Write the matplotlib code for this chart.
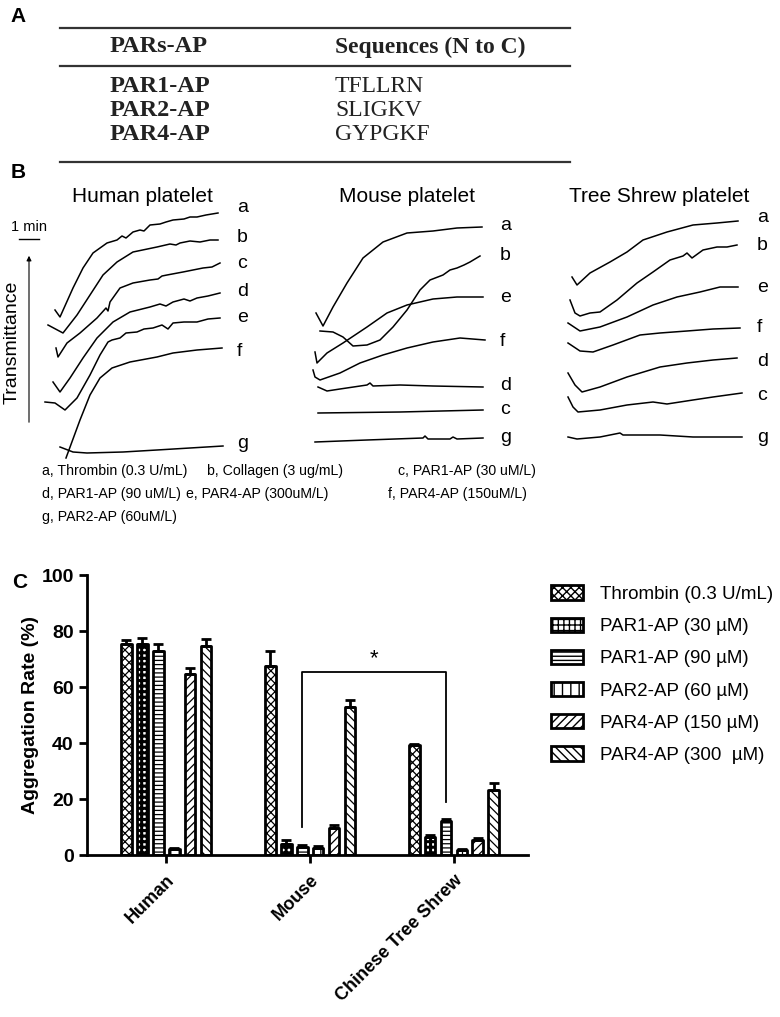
import numpy as np
import matplotlib
matplotlib.use('Agg')
import matplotlib.pyplot as plt
from matplotlib.patches import Patch

plt.rcParams['font.family'] = ['Liberation Sans', 'DejaVu Sans']

W, H = 780, 1017

# ---- panel A: peptide table
table_header = ['PARs-AP', 'Sequences (N to C)']
peptides = ['PAR1-AP', 'PAR2-AP', 'PAR4-AP']
sequences = ['TFLLRN', 'SLIGKV', 'GYPGKF']

# ---- panel B: aggregation traces, time (min) vs transmittance (a.u.)
human = {
    'a': ([0.75, 1.0, 1.65, 2.15, 2.65, 3.35, 3.85, 4.1, 4.3, 4.65, 5.0, 5.2, 5.5, 6.0, 6.3, 6.65, 7.2, 7.5, 7.85, 8.3, 8.9],
          [150, 143, 172, 192, 207, 217, 220, 224, 222, 228, 230, 229, 235, 236, 238, 240, 241, 243, 243, 245, 247]),
    'b': ([0.4, 1.15, 1.85, 2.5, 3.15, 3.85, 4.65, 5.85, 6.5, 6.8, 7.0, 7.5, 8.0, 8.5, 8.9],
          [135, 127, 145, 165, 185, 198, 208, 213, 216, 215, 217, 219, 218, 220, 220]),
    'c': ([0.8, 0.9, 1.35, 2.0, 2.85, 3.3, 3.4, 3.5, 4.0, 4.65, 5.5, 5.9, 6.1, 6.35, 7.15, 8.15, 8.6, 9.0],
          [112, 103, 117, 127, 142, 152, 149, 158, 172, 177, 180, 181, 184, 185, 188, 192, 193, 197]),
    'd': ([0.65, 1.0, 1.5, 2.15, 2.85, 3.65, 4.5, 5.5, 6.0, 6.3, 6.65, 7.2, 7.5, 7.85, 8.4, 9.0],
          [78, 68, 82, 102, 122, 138, 148, 153, 156, 154, 158, 161, 159, 162, 164, 167]),
    'e': ([0.25, 0.75, 1.25, 1.85, 2.5, 3.0, 3.4, 3.6, 4.0, 4.3, 4.85, 5.2, 5.65, 6.1, 6.4, 6.65, 7.2, 7.85, 8.4, 9.0],
          [58, 57, 50, 62, 85, 105, 118, 120, 122, 127, 128, 131, 132, 135, 131, 137, 138, 138, 141, 142]),
    'f': ([1.3, 2.0, 2.5, 3.0, 3.6, 4.5, 5.85, 6.65, 7.85, 9.1],
          [2, 40, 65, 82, 92, 98, 103, 107, 110, 112]),
    'g': ([1.0, 1.65, 2.35, 4.15, 5.85, 7.5, 9.15],
          [13, 8, 7, 8, 10, 12, 14]),
}
mouse = {
    'a': ([0.8, 1.15, 1.65, 2.35, 3.15, 4.15, 5.35, 6.65, 7.85, 9.1],
          [147, 134, 153, 177, 202, 218, 227, 229, 232, 233]),
    'b': ([1.0, 1.65, 2.15, 2.65, 3.35, 4.0, 4.65, 5.35, 6.0, 6.5, 7.15, 7.5, 7.85, 8.2, 8.5, 9.0],
          [129, 128, 123, 114, 115, 120, 133, 150, 170, 180, 185, 190, 192, 195, 198, 204]),
    'e': ([0.75, 0.85, 1.35, 2.15, 3.35, 4.35, 5.35, 6.65, 7.85, 9.15],
          [108, 97, 107, 117, 133, 147, 155, 161, 163, 163]),
    'f': ([0.65, 0.75, 1.0, 2.0, 3.0, 4.15, 5.35, 6.65, 8.0, 9.25],
          [90, 83, 80, 87, 97, 105, 112, 118, 122, 120]),
    'd': ([0.9, 1.35, 2.0, 3.35, 3.5, 3.65, 5.0, 6.65, 9.15],
          [73, 69, 71, 75, 77, 74, 75, 74, 73]),
    'c': ([0.9, 5.0, 9.15],
          [47, 48, 50]),
    'g': ([0.75, 3.35, 6.15, 6.25, 6.4, 7.5, 7.65, 7.85, 9.15],
          [18, 20, 22, 24, 21, 21, 23, 21, 22]),
}
shrew = {
    'a': ([0.6, 0.85, 1.5, 2.5, 3.35, 4.15, 5.35, 6.65, 7.85, 8.9],
          [183, 175, 187, 198, 208, 220, 228, 235, 237, 239]),
    'b': ([0.5, 0.75, 1.0, 1.5, 2.0, 2.85, 3.85, 4.65, 5.5, 6.15, 6.35, 6.6, 7.15, 7.85, 8.35, 8.85],
          [160, 147, 144, 147, 148, 160, 177, 188, 200, 204, 207, 202, 210, 213, 213, 215]),
    'e': ([0.4, 1.0, 2.0, 3.35, 4.65, 5.85, 7.0, 8.0, 8.9],
          [137, 129, 133, 143, 155, 163, 168, 173, 173]),
    'f': ([0.4, 1.0, 1.65, 2.65, 4.0, 5.0, 6.35, 7.65, 9.0],
          [117, 109, 108, 115, 125, 127, 129, 131, 132]),
    'd': ([0.4, 0.75, 1.1, 2.0, 3.35, 5.0, 6.35, 7.65, 8.85],
          [87, 75, 68, 73, 83, 93, 97, 100, 102]),
    'c': ([0.4, 0.65, 0.9, 2.0, 3.35, 4.65, 5.35, 6.65, 7.65, 9.1],
          [63, 53, 48, 50, 55, 58, 56, 60, 63, 67]),
    'g': ([0.4, 0.85, 2.0, 3.0, 3.15, 5.0, 6.65, 9.1],
          [23, 21, 23, 27, 25, 25, 23, 23]),
}
trace_titles = ['Human platelet', 'Mouse platelet', 'Tree Shrew platelet']
trace_keys = ['Human', 'Mouse', 'Shrew']
label_y = {
    'Human': {'a': 253, 'b': 222, 'c': 197, 'd': 169, 'e': 142, 'f': 109, 'g': 16},
    'Mouse': {'a': 235, 'b': 205, 'e': 163, 'f': 118, 'd': 75, 'c': 50, 'g': 22},
    'Shrew': {'a': 242, 'b': 214, 'e': 173, 'f': 133, 'd': 98, 'c': 65, 'g': 23},
}
label_t = {'Human': 9.85, 'Mouse': 10.0, 'Shrew': 9.85}

agonist_notes = [
    ['a, Thrombin (0.3 U/mL)', 'b, Collagen (3 ug/mL)', 'c, PAR1-AP (30 uM/L)'],
    ['d, PAR1-AP (90 uM/L)', 'e, PAR4-AP (300uM/L)', 'f, PAR4-AP (150uM/L)'],
    ['g, PAR2-AP (60uM/L)'],
]

# ---- panel C: aggregation rate (%)
species = ['Human', 'Mouse', 'Chinese Tree Shrew']
agonists = ['Thrombin (0.3 U/mL)', 'PAR1-AP (30 µM)', 'PAR1-AP (90 µM)',
            'PAR2-AP (60 µM)', 'PAR4-AP (150 µM)', 'PAR4-AP (300  µM)']
thrombin = [75.5, 67.5, 39.2]
par1_30 = [75.5, 3.8, 6.5]
par1_90 = [73.0, 2.8, 12.3]
par2_60 = [2.0, 2.6, 1.8]
par4_150 = [64.5, 9.5, 5.3]
par4_300 = [74.5, 53.0, 23.2]
thrombin_err = [1.3, 5.3, 0.6]
par1_30_err = [2.0, 1.6, 0.5]
par1_90_err = [2.2, 0.9, 0.4]
par2_60_err = [0.5, 0.7, 0.3]
par4_150_err = [2.2, 1.3, 0.6]
par4_300_err = [2.8, 2.3, 2.4]
hatches = ['xxxx', '+++', '----', '||', '////', '\\\\\\\\']

fig = plt.figure(figsize=(W / 100, H / 100), dpi=100)


def px_axes(x0, y0, x1, y1):
    return fig.add_axes([x0 / W, 1 - y1 / H, (x1 - x0) / W, (y1 - y0) / H])


# ---- panel B axes
traces = {'Human': human, 'Mouse': mouse, 'Shrew': shrew}
for i, key in enumerate(trace_keys):
    ax = px_axes(260 * i, 200, 260 * (i + 1), 460)
    ax.set_xlim(-2, 11)
    ax.set_ylim(0, 260)
    ax.axis('off')
    for letter, (t, tr) in traces[key].items():
        ax.plot(t, tr, color='black', lw=1.1)
        ax.text(label_t[key], label_y[key][letter], letter, fontsize=14,
                ha='left', va='center')
    if key == 'Human':
        # 1 min scale bar and transmittance arrow
        ax.plot([-1.05, -0.05], [221, 221], color='black', lw=1.0)
        ax.text(-0.55, 226, '1 min', fontsize=10.5, ha='center', va='bottom')
        ax.annotate('', xy=(-0.55, 207), xytext=(-0.55, 35),
                    arrowprops=dict(arrowstyle='-|>', color='black', lw=0.8,
                                    mutation_scale=7))
        ax.text(-1.4, 118, 'Transmittance', rotation=90, fontsize=14,
                ha='center', va='center')

# ---- panel C axes
axc = px_axes(87, 575, 528, 855)
values = [thrombin, par1_30, par1_90, par2_60, par4_150, par4_300]
errors = [thrombin_err, par1_30_err, par1_90_err, par2_60_err, par4_150_err, par4_300_err]
x = np.arange(len(species))
step = 0.111
bw = 0.076
handles = []
for j in range(len(agonists)):
    xs = x + (j - 2.5) * step
    with plt.rc_context({'hatch.linewidth': 2.2 if j == 1 else 0.9}):
        axc.bar(xs, values[j], width=bw, color='white', edgecolor='black',
                linewidth=2.0, hatch=hatches[j], joinstyle='round', zorder=2)
        handles.append(Patch(facecolor='white', edgecolor='black', linewidth=2.0,
                             hatch=hatches[j], label=agonists[j]))
    axc.errorbar(xs, values[j], yerr=[np.zeros(3), errors[j]], fmt='none',
                 ecolor='black', elinewidth=2.0, capsize=3.5, capthick=2.0, zorder=3)

axc.set_xlim(-0.549, 2.514)
axc.set_ylim(0, 100)
axc.set_yticks([0, 20, 40, 60, 80, 100])
axc.set_xticks(x)
axc.set_xticklabels(species, rotation=45, ha='right', va='top',
                    rotation_mode='anchor', fontsize=13, fontweight='bold')
for lab in axc.get_yticklabels():
    lab.set_fontweight('bold')
    lab.set_fontsize(14)
axc.tick_params(axis='both', direction='out', length=6, width=2)
axc.tick_params(axis='x', pad=6)
axc.spines['top'].set_visible(False)
axc.spines['right'].set_visible(False)
axc.spines['left'].set_linewidth(2)
axc.spines['bottom'].set_linewidth(2)
axc.set_ylabel('Aggregation Rate (%)', fontsize=14, fontweight='bold', labelpad=2)

# significance bracket between mouse and tree shrew PAR1-AP (90 uM)
bx0 = x[1] + (2 - 2.5) * step
bx1 = x[2] + (2 - 2.5) * step
axc.plot([bx0, bx0, bx1, bx1], [10, 65.4, 65.4, 19], color='black', lw=1.3, zorder=4)
axc.text((bx0 + bx1) / 2, 66.5, '*', fontsize=16, ha='center', va='bottom')

fig.legend(handles=handles, loc='upper left', bbox_to_anchor=(543 / W, 1 - 578 / H),
           frameon=False, fontsize=13.5, handlelength=1.75, handleheight=0.78,
           labelspacing=0.78, handletextpad=0.9, borderaxespad=0)

# ---- overlay for panel labels, table and notes
ov = fig.add_axes([0, 0, 1, 1])
ov.set_xlim(0, W)
ov.set_ylim(H, 0)
ov.axis('off')
ov.patch.set_alpha(0)

for lab, (lx, ly) in zip('ABC', [(18, 17), (18, 173), (20, 583)]):
    ov.text(lx, ly, lab, fontsize=15, fontweight='bold', ha='center', va='center')

for ly in [28, 66, 162]:
    ov.plot([60, 570], [ly, ly], color='#333333', lw=1.6)
serif = ['Liberation Serif', 'DejaVu Serif']
ov.text(110, 47, table_header[0], family=serif, fontsize=17.5, fontweight='bold',
        ha='left', va='center', color='#222222')
ov.text(335, 47, table_header[1], family=serif, fontsize=17, fontweight='bold',
        ha='left', va='center', color='#222222')
for k, (pep, seq) in enumerate(zip(peptides, sequences)):
    ry = 87 + 23.5 * k
    ov.text(110, ry, pep, family=serif, fontsize=17.5, fontweight='bold',
            ha='left', va='center', color='#222222')
    ov.text(335, ry, seq, family=serif, fontsize=17, ha='left', va='center',
            color='#222222')

for titles_x, title in zip([142, 407, 659], trace_titles):
    ov.text(titles_x, 196, title, fontsize=15, ha='center', va='center')

note_x = [[42, 207, 398], [42, 186, 388], [42]]
for r, row in enumerate(agonist_notes):
    for nx, note in zip(note_x[r], row):
        ov.text(nx, 471 + 23 * r, note, fontsize=10.2, ha='left', va='center')

fig.savefig('out.png', dpi=100)
